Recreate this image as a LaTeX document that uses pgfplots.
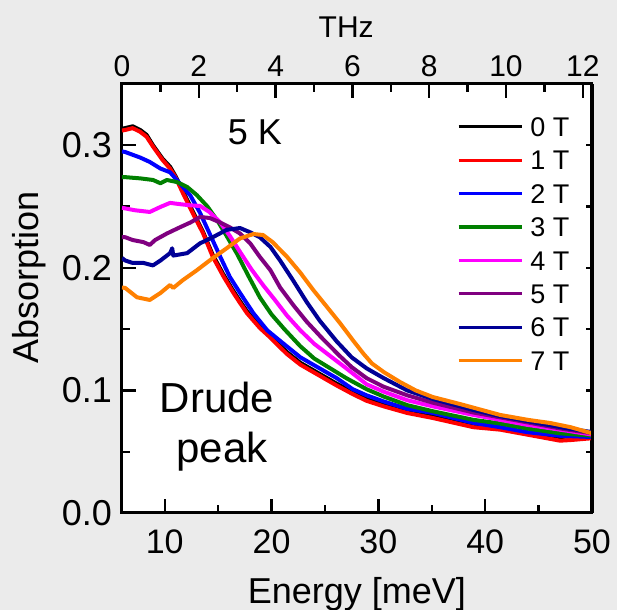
\documentclass[border=0pt]{standalone}
\usepackage{pgfplots}
\pgfplotsset{compat=1.18}
\usepackage{fontspec}
\setmainfont{Liberation Sans}
\definecolor{bg}{RGB}{235,235,235}
\definecolor{cred}{RGB}{255,0,0}
\definecolor{cblue}{RGB}{0,0,255}
\definecolor{cgreen}{RGB}{0,128,0}
\definecolor{cmag}{RGB}{255,0,255}
\definecolor{cpurple}{RGB}{128,0,128}
\definecolor{cnavy}{RGB}{0,0,150}
\definecolor{corange}{RGB}{255,128,0}
\begin{document}
\begin{tikzpicture}
\fill[bg] (0,0) rectangle (308.5pt,305pt);
\useasboundingbox (0,0) rectangle (308.5pt,305pt);
\begin{axis}[
  at={(61pt,48.5pt)}, anchor=south west, scale only axis,
  width=235pt, height=214.5pt,
  xmin=6, xmax=50, ymin=0, ymax=0.35,
  axis background/.style={fill=white},
  xtick={10,20,30,40,50}, minor xtick={15,25,35,45},
  ytick={0,0.1,0.2,0.3}, minor ytick={0.05,0.15,0.25},
  xtick pos=left, ytick pos=left, tick align=inside,
  major tick length=7pt, minor tick length=4pt,
  every tick/.style={black, line width=1.2pt},
  axis line style={line width=1.5pt},
  /pgf/number format/assume math mode=true,
  xticklabel style={font=\fontsize{17}{17}\selectfont, yshift=-5pt},
  yticklabel style={font=\fontsize{18}{18}\selectfont, xshift=-1.5pt,
     /pgf/number format/.cd, fixed, fixed zerofill, precision=1},
  xlabel={Energy [meV]}, ylabel={Absorption},
  xlabel style={font=\fontsize{18}{18}\selectfont, at={(axis description cs:0.5,-0.19)}, anchor=center},
  ylabel style={font=\fontsize{18}{18}\selectfont, at={(axis description cs:-0.198,0.55)}, anchor=center},
  every axis plot/.append style={line width=2pt, line join=round},
  legend image code/.code={\draw[#1, line width=1.6pt] (0pt,0pt) -- (31.5pt,0pt);},
  legend cell align=left,
  legend style={at={(rel axis cs:0.713,0.925)}, anchor=north west, draw=none, fill=none,
     inner sep=0pt, outer sep=0pt, font=\fontsize{13.5}{13.5}\selectfont,
     row sep=6pt, column sep=3pt,
     nodes={inner sep=0.5pt, text height=9.7pt, text depth=0pt}},
]
\addplot[black] coordinates {
(6.0,0.3135)(6.3,0.314)(7.0,0.3155)(7.7,0.3125)(8.3,0.3085)(8.9,0.300)(9.8,0.289)(10.5,0.2825)(11.0,0.275)(11.7,0.2625)(12.6,0.2465)(13.6,0.229)(14.5,0.2105)(15.5,0.1945)(16.4,0.1815)(17.0,0.1735)(17.7,0.1645)(18.9,0.1525)(19.9,0.1445)(21.4,0.1315)(22.7,0.1225)(24.5,0.1135)(26.1,0.1055)(27.6,0.0985)(28.9,0.093)(30.5,0.0885)(32.7,0.083)(35.1,0.079)(38.9,0.0715)(41.4,0.0695)(43.9,0.0655)(47.0,0.062)(48.0,0.0625)(50.0,0.065)};
\addlegendentry{0 T}
\addplot[cred] coordinates {
(6.0,0.312)(6.3,0.3125)(7.0,0.314)(7.7,0.311)(8.3,0.307)(8.9,0.299)(9.8,0.288)(10.5,0.281)(11.0,0.274)(11.7,0.261)(12.6,0.245)(13.6,0.228)(14.5,0.209)(15.5,0.193)(16.4,0.180)(17.0,0.172)(17.7,0.163)(18.9,0.151)(19.9,0.143)(21.4,0.130)(22.7,0.121)(24.5,0.112)(26.1,0.104)(27.6,0.097)(28.9,0.0915)(30.5,0.087)(32.7,0.0816)(35.1,0.0775)(38.9,0.070)(41.4,0.068)(43.9,0.064)(47.0,0.059)(48.0,0.0595)(50.0,0.061)};
\addlegendentry{1 T}
\addplot[cblue] coordinates {
(6.0,0.295)(6.3,0.2945)(7.7,0.290)(8.6,0.2864)(9.6,0.281)(10.5,0.278)(11.4,0.269)(12.4,0.259)(13.3,0.245)(14.2,0.228)(15.2,0.209)(16.1,0.1925)(17.05,0.1795)(18.3,0.163)(19.6,0.149)(21.0,0.139)(22.7,0.127)(24.3,0.119)(26.1,0.110)(27.6,0.101)(28.9,0.096)(30.5,0.091)(32.7,0.085)(35.1,0.0816)(38.9,0.0735)(41.4,0.070)(43.9,0.066)(47.0,0.063)(50.0,0.062)};
\addlegendentry{2 T}
\addplot[cgreen] coordinates {
(6.0,0.274)(6.3,0.274)(7.7,0.273)(8.9,0.2717)(9.6,0.269)(10.2,0.2717)(11.15,0.270)(12.1,0.266)(13.0,0.2594)(14.0,0.250)(14.9,0.239)(15.8,0.226)(16.8,0.211)(17.8,0.194)(18.9,0.176)(20.0,0.162)(21.2,0.150)(22.7,0.136)(24.0,0.126)(25.5,0.118)(27.0,0.110)(28.9,0.101)(30.5,0.095)(32.7,0.088)(35.1,0.083)(38.9,0.076)(41.4,0.073)(43.9,0.069)(47.0,0.065)(50.0,0.063)};
\addlegendentry{3 T}
\addplot[cmag] coordinates {
(6.0,0.249)(7.2,0.247)(8.6,0.2456)(9.6,0.2497)(10.5,0.253)(11.4,0.252)(12.4,0.251)(13.3,0.2505)(14.2,0.2455)(15.2,0.237)(16.1,0.226)(17.05,0.213)(18.1,0.199)(19.2,0.186)(20.3,0.174)(21.45,0.161)(22.7,0.149)(24.0,0.138)(25.5,0.128)(27.0,0.118)(28.9,0.105)(30.5,0.099)(32.7,0.092)(35.1,0.087)(38.9,0.080)(41.4,0.076)(43.9,0.072)(47.0,0.068)(50.0,0.064)};
\addlegendentry{4 T}
\addplot[cpurple] coordinates {
(6.0,0.225)(6.3,0.225)(7.0,0.2227)(8.0,0.221)(8.6,0.2187)(9.1,0.2227)(10.2,0.228)(11.4,0.233)(12.4,0.237)(13.3,0.2415)(14.2,0.2407)(15.2,0.237)(16.1,0.233)(17.05,0.228)(18.0,0.220)(18.9,0.209)(19.9,0.198)(20.8,0.184)(22.0,0.170)(23.3,0.156)(24.8,0.142)(26.4,0.128)(27.5,0.119)(28.9,0.110)(30.5,0.103)(32.7,0.096)(35.1,0.090)(38.9,0.082)(41.4,0.078)(43.9,0.074)(47.0,0.069)(50.0,0.065)};
\addlegendentry{5 T}
\addplot[cnavy] coordinates {
(6.0,0.208)(6.3,0.206)(7.0,0.204)(8.0,0.204)(8.9,0.202)(9.6,0.206)(10.5,0.212)(10.7,0.216)(10.8,0.210)(12.1,0.212)(13.3,0.220)(14.5,0.225)(15.8,0.231)(17.05,0.2325)(18.0,0.229)(18.9,0.225)(19.9,0.217)(20.8,0.206)(22.0,0.190)(23.3,0.172)(24.5,0.157)(26.1,0.140)(27.5,0.127)(28.9,0.118)(30.5,0.110)(32.7,0.100)(35.1,0.093)(38.9,0.084)(41.4,0.079)(43.9,0.075)(47.7,0.069)(50.0,0.066)};
\addlegendentry{6 T}
\addplot[corange] coordinates {
(6.0,0.184)(6.3,0.1836)(7.4,0.176)(8.6,0.1738)(9.6,0.1795)(10.5,0.186)(10.8,0.1836)(11.7,0.190)(13.0,0.198)(14.2,0.206)(15.8,0.216)(17.05,0.224)(18.3,0.2276)(19.2,0.2268)(20.1,0.221)(21.45,0.209)(22.7,0.196)(23.9,0.182)(25.2,0.168)(26.4,0.155)(27.7,0.140)(28.6,0.130)(29.4,0.122)(30.5,0.115)(32.0,0.107)(33.5,0.100)(35.1,0.0946)(37.6,0.089)(41.4,0.080)(44.0,0.076)(46.1,0.0734)(48.0,0.070)(50.0,0.065)};
\addlegendentry{7 T}
\node[font=\fontsize{18}{18}\selectfont] at (axis cs:18.45,0.311) {5 K};
\node[font=\fontsize{21}{21}\selectfont, anchor=base] at (axis cs:14.9,0.0816) {Drude};
\node[font=\fontsize{21}{21}\selectfont, anchor=base] at (axis cs:15.36,0.0408) {peak};
\end{axis}
\begin{axis}[
  at={(61pt,48.5pt)}, anchor=south west, scale only axis,
  width=235pt, height=214.5pt,
  xmin=0, xmax=12.24, ymin=0, ymax=0.35,
  axis x line*=top, axis y line*=right,
  xtick={0,2,4,6,8,10,12}, minor xtick={1,3,5,7,9,11},
  ytick={0,0.05,0.1,0.15,0.2,0.25,0.3}, yticklabels={},
  tick align=inside, major tick length=7pt, minor tick length=4pt,
  ytick style={/pgfplots/major tick length=3pt},
  every tick/.style={black, line width=1.2pt},
  axis line style={line width=1.5pt},
  /pgf/number format/assume math mode=true,
  xticklabel style={font=\fontsize{15}{15}\selectfont},
  xlabel={THz},
  xlabel style={font=\fontsize{15}{15}\selectfont, at={(axis description cs:0.477,1.133)}, anchor=center},
]
\end{axis}
\end{tikzpicture}
\end{document}
